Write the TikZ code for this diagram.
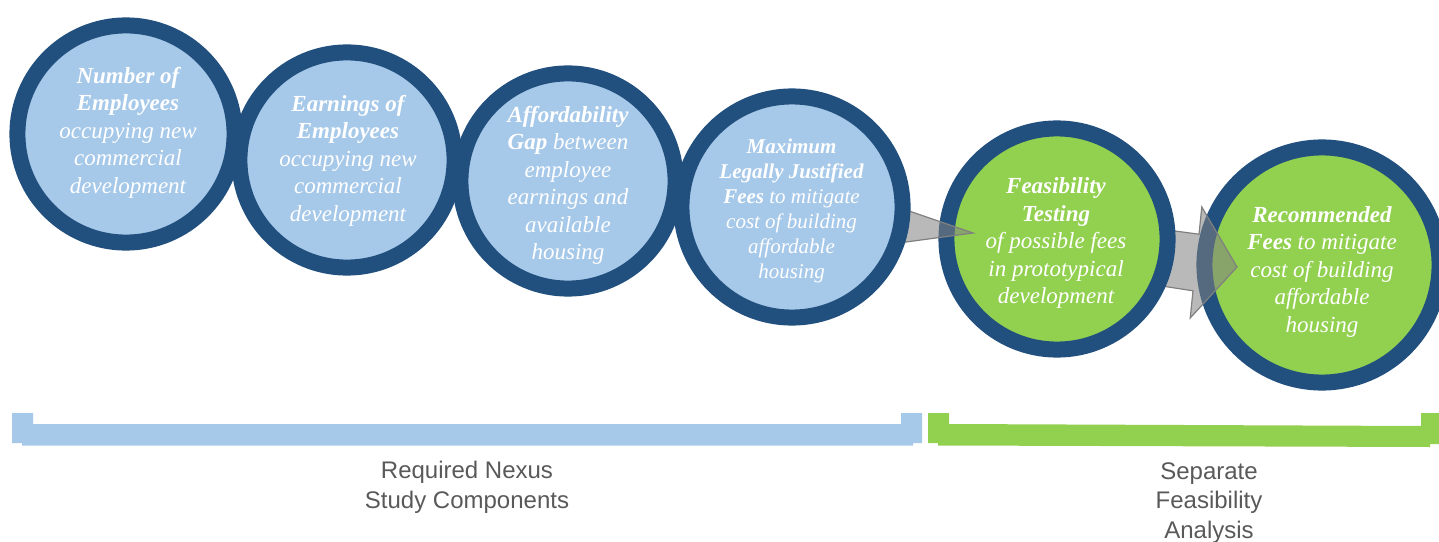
\documentclass[tikz,border=0pt]{standalone}
\usepackage{fontspec}
\setmainfont{Liberation Serif}
\newfontfamily\labelfont{Liberation Sans}
\definecolor{ringblue}{HTML}{21507F}
\definecolor{paleblue}{HTML}{A6C8E9}
\definecolor{leafgreen}{HTML}{92D050}
\definecolor{arrowgray}{HTML}{808080}
\definecolor{labelgray}{HTML}{595959}
\begin{document}
\begin{tikzpicture}[x=1bp,y=-1bp,
  stage/.style={circle, draw=ringblue, line width=16bp, inner sep=0pt, minimum size=#1},
  bluestage/.style={stage=#1, fill=paleblue},
  greenstage/.style={stage=#1, fill=leafgreen},
  stagetext/.style={text=white, align=center, inner sep=0pt,
    font=\fontsize{23bp}{27.5bp}\selectfont\itshape},
  smallstagetext/.style={stagetext, font=\fontsize{21bp}{25bp}\selectfont\itshape},
  flowarrow/.style={fill=arrowgray, fill opacity=0.55, draw=arrowgray, line width=1.2bp, line join=miter},
  bracketbar/.style={fill=#1, draw=none},
  grouplabel/.style={text=labelgray, align=center, inner sep=0pt,
    font=\labelfont\fontsize{24bp}{29.5bp}\selectfont}
]
\useasboundingbox (0,0) rectangle (1439,542);

% green stages and their arrows (each arrow tucks under the circle it leaves)
\node[greenstage=236] (c6) at (1322,265) {};
\draw[flowarrow] (1129,281.0) -- (1129.2,224.9) -- (1199.0,234.2) -- (1201.8,207.0)
  -- (1237,267) -- (1190.2,318.0) -- (1193.0,290.8) -- cycle;
\node[greenstage=222] (c5) at (1057,239) {};
\draw[flowarrow] (892,205.1) -- (973,233) -- (886,244.7) -- cycle;

% blue stages
\node[bluestage=222] (c4) at (792,207) {};
\node[bluestage=216] (c3) at (568,181) {};
\node[bluestage=216] (c2) at (347,160) {};
\node[bluestage=218] (c1) at (126,134) {};

% stage texts
\node[stagetext] (t1) at (128,132.5) {\textbf{Number of}\\\textbf{Employees}\\occupying new\\commercial\\development};
\node[stagetext] (t2) at (348,160.5) {\textbf{Earnings of}\\\textbf{Employees}\\occupying new\\commercial\\development};
\node[stagetext] (t3) at (568,185.5) {\textbf{Affordability}\\\textbf{Gap} between\\employee\\earnings and\\available\\housing};
\node[smallstagetext] (t4) at (791.5,211) {\textbf{Maximum}\\\textbf{Legally Justified}\\\textbf{Fees} to mitigate\\cost of building\\affordable\\housing};
\node[stagetext] (t5) at (1056,243) {\textbf{Feasibility}\\\textbf{Testing}\\of possible fees\\in prototypical\\development};
\node[stagetext] (t6) at (1322,271.5) {\textbf{Recommended}\\\textbf{Fees} to mitigate\\cost of building\\affordable\\housing};

% group brackets
\fill[bracketbar=paleblue] (12,413) -- (33,413) -- (33,424) -- (901,424) -- (901,413)
  -- (922,413) -- (922,443) -- (913,443) -- (913,445.5) -- (22,445.5) -- (22,443)
  -- (12,443) -- cycle;
\fill[bracketbar=leafgreen] (928,413) -- (949,413) -- (949,424) -- (1421,426) -- (1421,413)
  -- (1440,413) -- (1440,444) -- (1430,444) -- (1430,447) -- (938,445.5) -- (938,443)
  -- (928,443) -- cycle;

% group labels
\node[grouplabel] (nexus) at (467,487.5) {Required Nexus\\Study Components};
\node[grouplabel] (feas) at (1209,503) {Separate\\Feasibility\\Analysis};
\end{tikzpicture}
\end{document}
